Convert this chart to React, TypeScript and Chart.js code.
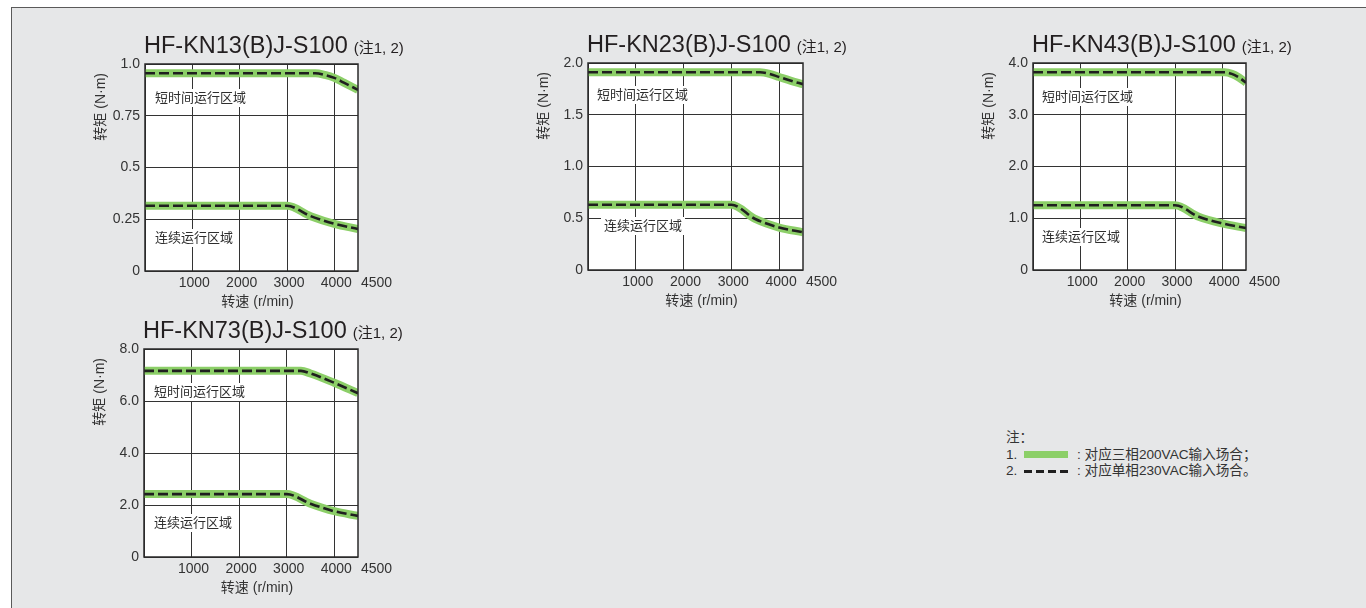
import React, { useEffect, useRef } from 'react';
import { Chart, registerables } from 'chart.js';

Chart.register(...registerables);

const FONT = '"Liberation Sans", "Noto Sans CJK SC", Arial, sans-serif';
const GREEN = '#8ccf68';
const DASH = '#1f1f1f';
const TEXT = '#333333';

// ---- shared axis data ----
const speedTicks = [0, 1000, 2000, 3000, 4000];
const speedTickLabels = ['', '1000', '2000', '3000', '4000'];
const speedMax = 4500;
const speedEndLabel = '4500';
const xTitle = '转速 (r/min)';
const yTitle = '转矩 (N·m)';
const shortLabel = '短时间运行区域';
const contLabel = '连续运行区域';
const titleNote = '(注1, 2)';

// ---- HF-KN13(B)J-S100 ----
const kn13Ticks = [0, 0.25, 0.5, 0.75, 1.0];
const kn13TickLabels = ['0', '0.25', '0.5', '0.75', '1.0'];
const kn13ShortSpeed = [0, 3600, 3800, 4000, 4200, 4500];
const kn13ShortTorque = [0.955, 0.955, 0.947, 0.933, 0.91, 0.875];
const kn13ContSpeed = [0, 3000, 3500, 4000, 4500];
const kn13ContTorque = [0.315, 0.315, 0.265, 0.228, 0.203];

// ---- HF-KN23(B)J-S100 ----
const kn23Ticks = [0, 0.5, 1.0, 1.5, 2.0];
const kn23TickLabels = ['0', '0.5', '1.0', '1.5', '2.0'];
const kn23ShortSpeed = [0, 3600, 3800, 4000, 4250, 4500];
const kn23ShortTorque = [1.91, 1.91, 1.895, 1.865, 1.828, 1.795];
const kn23ContSpeed = [0, 3000, 3500, 4000, 4500];
const kn23ContTorque = [0.63, 0.63, 0.493, 0.41, 0.365];

// ---- HF-KN43(B)J-S100 ----
const kn43Ticks = [0, 1.0, 2.0, 3.0, 4.0];
const kn43TickLabels = ['0', '1.0', '2.0', '3.0', '4.0'];
const kn43ShortSpeed = [0, 4050, 4200, 4350, 4500];
const kn43ShortTorque = [3.82, 3.82, 3.79, 3.72, 3.62];
const kn43ContSpeed = [0, 3000, 3500, 4000, 4500];
const kn43ContTorque = [1.25, 1.25, 1.03, 0.9, 0.81];

// ---- HF-KN73(B)J-S100 ----
const kn73Ticks = [0, 2.0, 4.0, 6.0, 8.0];
const kn73TickLabels = ['0', '2.0', '4.0', '6.0', '8.0'];
const kn73ShortSpeed = [0, 3300, 3500, 4000, 4500];
const kn73ShortTorque = [7.16, 7.16, 7.06, 6.7, 6.3];
const kn73ContSpeed = [0, 3000, 3500, 4000, 4500];
const kn73ContTorque = [2.42, 2.42, 2.05, 1.76, 1.58];

type Region = { text: string; dx: number; dy: number };
type PanelCfg = {
  title: string;
  L: number; T: number; W: number; H: number;
  yMax: number;
  yTicks: number[];
  yLabels: string[];
  curves: { xs: number[]; ys: number[] }[];
  regions: Region[];
};

const panels: PanelCfg[] = [
  {
    title: 'HF-KN13(B)J-S100', L: 145, T: 64, W: 213, H: 207,
    yMax: 1.0, yTicks: kn13Ticks, yLabels: kn13TickLabels,
    curves: [{ xs: kn13ShortSpeed, ys: kn13ShortTorque }, { xs: kn13ContSpeed, ys: kn13ContTorque }],
    regions: [{ text: shortLabel, dx: 10, dy: 34 }, { text: contLabel, dx: 10, dy: 174 }],
  },
  {
    title: 'HF-KN23(B)J-S100', L: 588, T: 63, W: 215, H: 207,
    yMax: 2.0, yTicks: kn23Ticks, yLabels: kn23TickLabels,
    curves: [{ xs: kn23ShortSpeed, ys: kn23ShortTorque }, { xs: kn23ContSpeed, ys: kn23ContTorque }],
    regions: [{ text: shortLabel, dx: 9, dy: 32 }, { text: contLabel, dx: 16, dy: 163 }],
  },
  {
    title: 'HF-KN43(B)J-S100', L: 1033, T: 63, W: 213, H: 207,
    yMax: 4.0, yTicks: kn43Ticks, yLabels: kn43TickLabels,
    curves: [{ xs: kn43ShortSpeed, ys: kn43ShortTorque }, { xs: kn43ContSpeed, ys: kn43ContTorque }],
    regions: [{ text: shortLabel, dx: 9, dy: 34 }, { text: contLabel, dx: 9, dy: 174 }],
  },
  {
    title: 'HF-KN73(B)J-S100', L: 144, T: 349, W: 214, H: 208,
    yMax: 8.0, yTicks: kn73Ticks, yLabels: kn73TickLabels,
    curves: [{ xs: kn73ShortSpeed, ys: kn73ShortTorque }, { xs: kn73ContSpeed, ys: kn73ContTorque }],
    regions: [{ text: shortLabel, dx: 10, dy: 43 }, { text: contLabel, dx: 10, dy: 174 }],
  },
];

const PAD_L = 70, PAD_T = 40, PAD_R = 60, X_H = 40, PAD_B = 2;

function decoPlugin(p: PanelCfg) {
  return {
    id: 'panelDeco',
    beforeDraw(chart: any) {
      const { ctx, chartArea: a } = chart;
      ctx.save();
      ctx.fillStyle = '#ffffff';
      ctx.fillRect(a.left, a.top, a.right - a.left, a.bottom - a.top);
      ctx.restore();
    },
    afterDraw(chart: any) {
      const { ctx, chartArea: a } = chart;
      ctx.save();
      ctx.strokeStyle = '#2a2a2a';
      ctx.lineWidth = 1.5;
      ctx.strokeRect(a.left, a.top, a.right - a.left, a.bottom - a.top);

      // region labels with white backing
      ctx.font = `13px ${FONT}`;
      ctx.textBaseline = 'middle';
      ctx.textAlign = 'left';
      for (const r of p.regions) {
        const w = ctx.measureText(r.text).width;
        const x = a.left + r.dx;
        const y = a.top + r.dy;
        ctx.fillStyle = '#ffffff';
        ctx.fillRect(x - 3, y - 9, w + 6, 18);
        ctx.fillStyle = '#2e2e2e';
        ctx.fillText(r.text, x, y);
      }

      // panel title
      ctx.textBaseline = 'alphabetic';
      ctx.fillStyle = '#231f20';
      ctx.font = `23.5px ${FONT}`;
      const tx = a.left - 1;
      const ty = a.top - 11;
      ctx.fillText(p.title, tx, ty);
      const tw = ctx.measureText(p.title).width;
      ctx.font = `15px ${FONT}`;
      ctx.fillText(titleNote, tx + tw + 6, ty);

      // x axis end label
      ctx.font = `14px ${FONT}`;
      ctx.fillStyle = TEXT;
      ctx.textBaseline = 'middle';
      ctx.textAlign = 'left';
      const xEnd = chart.scales.x.getPixelForValue(speedMax);
      ctx.fillText(speedEndLabel, xEnd + 3, a.bottom + 12.4);

      // x axis title
      ctx.textAlign = 'center';
      ctx.fillText(xTitle, (a.left + a.right) / 2 + 6, a.bottom + 31.5);

      // y axis title
      const yw = ctx.measureText(yTitle).width;
      ctx.translate(a.left - 44, a.top + 9 + yw / 2);
      ctx.rotate(-Math.PI / 2);
      ctx.textAlign = 'center';
      ctx.textBaseline = 'middle';
      ctx.fillText(yTitle, 0, 0);
      ctx.restore();
    },
  };
}

function Panel({ p }: { p: PanelCfg }) {
  const ref = useRef<HTMLCanvasElement | null>(null);
  const cw = PAD_L + p.W + PAD_R;
  const ch = PAD_T + p.H + X_H + PAD_B;

  useEffect(() => {
    if (!ref.current) return;
    const datasets: any[] = [];
    p.curves.forEach((c) => {
      const pts = c.xs.map((x, i) => ({ x, y: c.ys[i] }));
      datasets.push({
        data: pts,
        borderColor: GREEN,
        borderWidth: 8,
        pointRadius: 0,
        cubicInterpolationMode: 'monotone',
        clip: 0,
        order: 2,
        borderCapStyle: 'butt',
        borderJoinStyle: 'round',
      });
      datasets.push({
        data: pts,
        borderColor: DASH,
        borderWidth: 2.6,
        borderDash: [10, 4],
        pointRadius: 0,
        cubicInterpolationMode: 'monotone',
        clip: 0,
        order: 1,
        borderCapStyle: 'butt',
      });
    });

    const chart = new Chart(ref.current, {
      type: 'line',
      data: { datasets },
      options: {
        responsive: false,
        animation: false,
        events: [],
        layout: { padding: { left: 0, top: PAD_T, right: PAD_R, bottom: PAD_B } },
        plugins: { legend: { display: false }, tooltip: { enabled: false }, title: { display: false } },
        scales: {
          x: {
            type: 'linear',
            min: 0,
            max: speedMax,
            afterFit: (s: any) => { s.height = X_H; },
            afterBuildTicks: (ax: any) => { ax.ticks = speedTicks.map((v) => ({ value: v })); },
            ticks: {
              autoSkip: false,
              maxRotation: 0,
              minRotation: 0,
              padding: 4,
              labelOffset: 2,
              color: TEXT,
              font: { size: 14, family: FONT },
              callback: (v: any) => {
                const i = speedTicks.indexOf(Number(v));
                return i >= 0 ? speedTickLabels[i] : '';
              },
            },
            grid: { color: '#333333', lineWidth: 1, drawTicks: false },
            border: { display: false },
          },
          y: {
            type: 'linear',
            min: 0,
            max: p.yMax,
            afterFit: (s: any) => { s.width = PAD_L; },
            afterBuildTicks: (ax: any) => { ax.ticks = p.yTicks.map((v) => ({ value: v })); },
            ticks: {
              autoSkip: false,
              padding: 5,
              color: TEXT,
              font: { size: 14, family: FONT },
              callback: (v: any) => {
                const i = p.yTicks.findIndex((t) => Math.abs(t - Number(v)) < 1e-9);
                return i >= 0 ? p.yLabels[i] : '';
              },
            },
            grid: { color: '#333333', lineWidth: 1, drawTicks: false },
            border: { display: false },
          },
        },
      } as any,
      plugins: [decoPlugin(p)],
    });
    return () => chart.destroy();
  }, [p]);

  return (
    <canvas
      ref={ref}
      width={cw}
      height={ch}
      style={{ position: 'absolute', left: p.L - PAD_L, top: p.T - PAD_T, width: cw, height: ch }}
    />
  );
}

const legendRow1 = ': 对应三相200VAC输入场合；';
const legendRow2 = ': 对应单相230VAC输入场合。';

export default function App() {
  useEffect(() => {
    document.body.style.margin = '0';
  }, []);
  const dashes = [0, 1, 2, 3];
  return (
    <div
      style={{
        position: 'absolute', left: 0, top: 0, width: 1366, height: 608,
        overflow: 'hidden', background: '#ffffff', fontFamily: FONT,
      }}
    >
      <div
        style={{
          position: 'absolute', left: 11, top: 7, width: 1370, height: 620,
          background: '#e6e7e8', borderLeft: '1.5px solid #5a5a5a', borderTop: '1.5px solid #5a5a5a',
        }}
      />
      {panels.map((p) => (
        <Panel key={p.title} p={p} />
      ))}
      <div style={{ position: 'absolute', left: 1006, top: 430, fontSize: 13.6, lineHeight: '16.5px', color: TEXT, whiteSpace: 'nowrap' }}>
        <div>注：</div>
        <div style={{ display: 'flex', alignItems: 'center', height: 16.5 }}>
          <span style={{ display: 'inline-block', width: 18 }}>1.</span>
          <span style={{ display: 'inline-block', width: 44, height: 7, background: GREEN }} />
          <span style={{ marginLeft: 9 }}>{legendRow1}</span>
        </div>
        <div style={{ display: 'flex', alignItems: 'center', height: 16.5 }}>
          <span style={{ display: 'inline-block', width: 18 }}>2.</span>
          <span style={{ display: 'inline-flex', width: 44, justifyContent: 'space-between' }}>
            {dashes.map((d) => (
              <span key={d} style={{ display: 'inline-block', width: 8, height: 3, background: DASH }} />
            ))}
          </span>
          <span style={{ marginLeft: 9 }}>{legendRow2}</span>
        </div>
      </div>
    </div>
  );
}
